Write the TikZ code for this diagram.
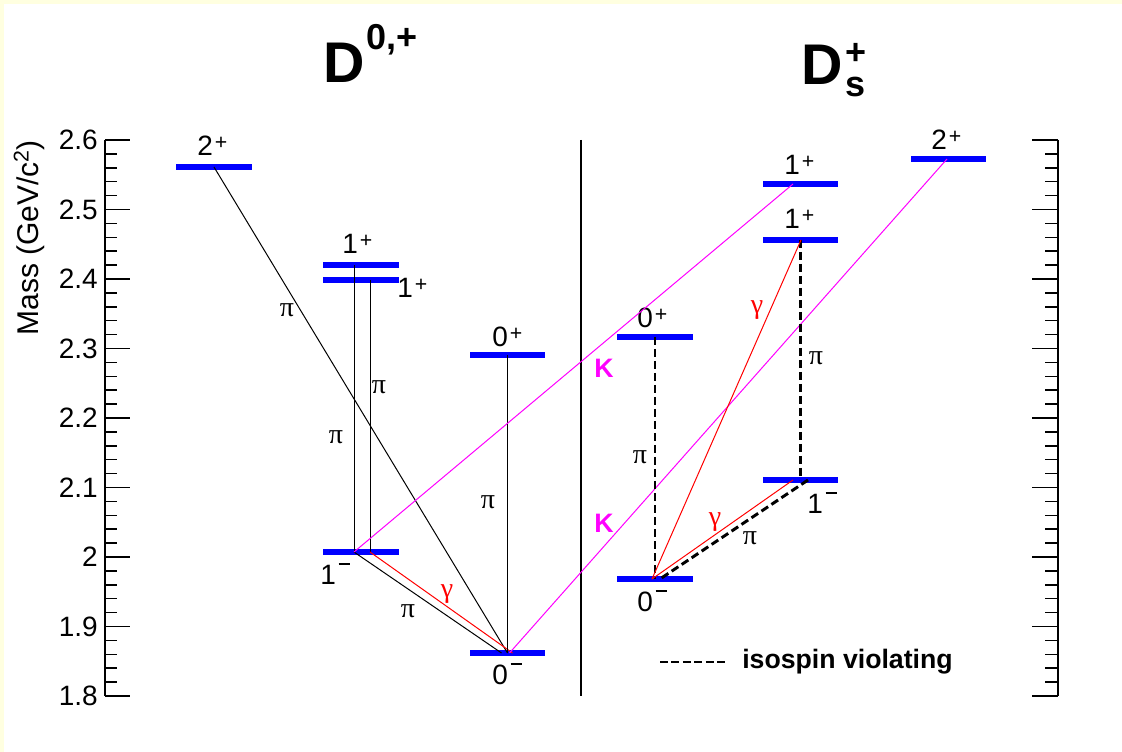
\documentclass[tikz,border=0pt]{standalone}
\usepackage{fontspec}
\setmainfont{Liberation Sans}
\newfontfamily\grk{Liberation Serif}
\usetikzlibrary{calc}
\definecolor{bgyellow}{HTML}{FFFFE0}
\definecolor{lvblue}{HTML}{0000FF}
\definecolor{kmag}{HTML}{FF00FF}
\definecolor{gred}{HTML}{FF0000}
\newcommand\fsz[1]{\fontsize{#1}{#1}\selectfont}
\newcommand\lvp[1]{#1\hspace{1.5pt}\raisebox{5pt}{\fsz{16}+}}
\newcommand\lvm[1]{#1\hspace{2pt}\rule[14.5pt]{8.5pt}{1.4pt}}
\begin{document}
\begin{tikzpicture}[x=0.75pt,y=-0.75pt,
  level/.style={fill=lvblue, inner sep=0pt, minimum width=56.5pt, minimum height=3.8pt},
  trans/.style={line width=0.75pt},
  iso/.style={line width=2.2pt, dash pattern=on 6pt off 3pt},
  kline/.style={kmag, line width=0.75pt},
  gline/.style={gred, line width=0.75pt},
  lab/.style={font=\fsz{21}, inner sep=0pt, anchor=base west},
  tl/.style={font=\fsz{21}, inner sep=0pt, anchor=east},
  pil/.style={font=\grk\fsz{21}, inner sep=0pt},
  gaml/.style={pil, text=gred},
  kl/.style={font=\bfseries\fsz{20}, text=kmag, inner sep=0pt},
  ax/.style={line width=1.1pt}
]
% background
\fill[bgyellow] (0,0) rectangle (1122,752);
\fill[white] (4,4) rectangle (1122,752);
\useasboundingbox (0,0) rectangle (1122,752);

% axes
\draw[ax] (105,140) -- (105,696);
\draw[ax] (1058,140) -- (1058,696);
\foreach \i in {0,...,40}{
  \pgfmathsetmacro\yy{696-\i*13.9}
  \pgfmathtruncatemacro\mm{mod(\i,5)}
  \ifnum\mm=0
    \draw[ax] (105,\yy) -- (130,\yy);
    \draw[ax] (1058,\yy) -- (1032,\yy);
  \else
    \draw[ax] (105,\yy) -- (117,\yy);
    \draw[ax] (1058,\yy) -- (1045,\yy);
  \fi
}
\foreach \v/\t in {0/1.8,1/1.9,2/2,3/2.1,4/2.2,5/2.3,6/2.4,7/2.5,8/2.6}{
  \node[tl] (tick\v) at (98,696-\v*69.5) {\t};
}
\node[rotate=90, font=\fsz{22.5}, inner sep=0pt] (ylab) at (29,238) {Mass (GeV/c\raisebox{7pt}{\fsz{16}2})};

% separator
\draw[line width=0.9pt] (581,140) -- (581,696);

% titles
\node[anchor=base west, inner sep=0pt, font=\bfseries\fsz{43}] (tD) at (323,83)
  {D\hspace{1pt}\raisebox{25pt}{\fsz{27}0,+}};
\node[anchor=base west, inner sep=0pt, font=\bfseries\fsz{43}] (tDs) at (801,85)
  {D\hspace{2pt}\rlap{\raisebox{15pt}{\fsz{27}+}}\raisebox{-8.5pt}{\fsz{27}s}};

% D levels
\node[level] (D2p)  at (214,167) {};
\node[level] (D1pa) at (361,265) {};
\node[level] (D1pb) at (361,280) {};
\node[level] (D1m)  at (361,552) {};
\node[level] (D0p)  at (507.5,355) {};
\node[level] (D0m)  at (507.5,653) {};
% Ds levels
\node[level] (S2p)  at (948.5,159) {};
\node[level] (S1pa) at (800.5,184) {};
\node[level] (S1pb) at (800.5,240) {};
\node[level] (S0p)  at (655,337) {};
\node[level] (S1m)  at (800.5,480) {};
\node[level] (S0m)  at (655,579) {};

% level labels
\node[lab] (lD2p)  at (197,156) {\lvp{2}};
\node[lab] (lD1pa) at (342,254) {\lvp{1}};
\node[lab] (lD1pb) at (397,298) {\lvp{1}};
\node[lab] (lD1m)  at (320,584) {\lvm{1}};
\node[lab] (lD0p)  at (492,347) {\lvp{0}};
\node[lab] (lD0m)  at (492,684) {\lvm{0}};
\node[lab] (lS2p)  at (931,150) {\lvp{2}};
\node[lab] (lS1pa) at (784,175) {\lvp{1}};
\node[lab] (lS1pb) at (784,229) {\lvp{1}};
\node[lab] (lS0p)  at (637,328) {\lvp{0}};
\node[lab] (lS1m)  at (807,513) {\lvm{1}};
\node[lab] (lS0m)  at (637,611) {\lvm{0}};

% D transitions
\draw[trans] (D2p.center) -- (D0m.center);
\draw[trans] ($(D1pa.center)+(-7,0)$) -- ($(D1m.center)+(-7,0)$);
\draw[trans] ($(D1pb.center)+(9,0)$) -- ($(D1m.center)+(9,0)$);
\draw[trans] ($(D1m.center)+(-7,0)$) -- ($(D0m.center)+(-6,0)$);
\draw[gline] ($(D1m.center)+(9,0)$) -- ($(D0m.center)+(5,0)$);
\draw[trans] (D0p.center) -- (D0m.center);
% K lines
\draw[kline] ($(D1m.center)+(-7,0)$) -- ($(S1pa.center)+(-7.5,0)$);
\draw[kline] ($(D0m.center)+(2,0)$) -- ($(S2p.center)+(-1.5,0)$);
% Ds transitions
\draw[iso] (S0p.center) -- (S0m.center);
\draw[iso] (S1pb.center) -- (S1m.center);
\draw[gline] ($(S1pb.center)+(0.5,0)$) -- ($(S0m.center)+(-3,0)$);
\draw[gline] ($(S1m.center)+(-7.5,0)$) -- ($(S0m.center)+(-3,0)$);
\draw[iso] ($(S1m.center)+(7.5,0)$) -- ($(S0m.center)+(5,0)$);

% transition labels
\node[pil] (p1) at (287,310) {π};
\node[pil] (p2) at (379,387) {π};
\node[pil] (p3) at (336,437) {π};
\node[pil] (p4) at (488,502) {π};
\node[pil] (p5) at (408,611) {π};
\node[gaml] (g1) at (447,594) {γ};
\node[kl] (k1) at (604,368) {K};
\node[kl] (k2) at (604,523) {K};
\node[pil] (p6) at (640,457) {π};
\node[gaml] (g2) at (757,310) {γ};
\node[pil] (p7) at (816,358) {π};
\node[gaml] (g3) at (715,522) {γ};
\node[pil] (p8) at (750,538) {π};

% legend
\coordinate (legA) at (660,662);
\node[anchor=west, inner sep=0pt, font=\bfseries\fsz{20}] (legT) at (742,662) {isospin violating};
\draw[line width=2pt, dash pattern=on 6pt off 2.6pt] (legA) -- ($(legA)+(68,0)$);
\end{tikzpicture}
\end{document}
